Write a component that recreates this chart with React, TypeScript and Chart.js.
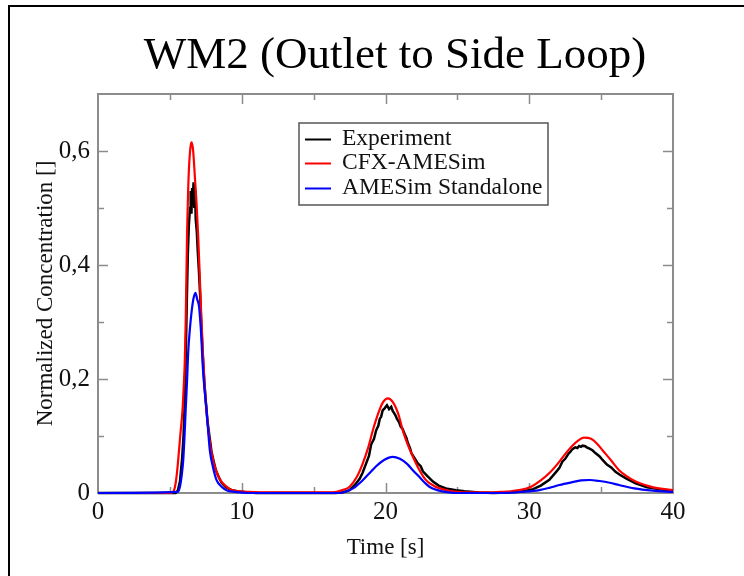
import React, { useEffect, useRef } from "react";
import { Chart, registerables } from "chart.js";

Chart.register(...registerables);

const titleText = "WM2 (Outlet to Side Loop)";
const xAxisTitle = "Time [s]";
const yAxisTitle = "Normalized Concentration []";
const xTicks = [0, 10, 20, 30, 40];
const xMinorTicks = [5, 15, 25, 35];
const yTicks = [0, 0.2, 0.4, 0.6];
const yMinorTicks = [0.1, 0.3, 0.5];
const yTickLabels = ["0", "0,2", "0,4", "0,6"];

const seriesNames = ["Experiment", "CFX-AMESim", "AMESim Standalone"];
const seriesColors = ["#000000", "#ff0000", "#0000ff"];

const expTime = [
  0, 5.4, 5.55, 5.7, 5.85, 5.95, 6.05, 6.12, 6.18, 6.25, 6.32, 6.4, 6.45, 6.5, 6.55, 6.6, 6.65, 6.7, 6.75, 6.8,
  6.87, 6.95, 7.02, 7.1, 7.18, 7.27, 7.38, 7.5, 7.62, 7.75, 7.9, 8.05, 8.2, 8.4, 8.6, 8.9, 9.3, 10, 11,
  16.5, 17.0, 17.5, 17.9, 18.2, 18.4, 18.7, 18.85, 19.0, 19.2, 19.35, 19.5, 19.6, 19.7, 19.8, 19.95, 20.1, 20.25, 20.4,
  20.5, 20.6, 20.7, 20.8, 20.95, 21.05, 21.2, 21.3, 21.45, 21.55, 21.7, 21.8, 22.0, 22.25, 22.45, 22.6, 22.9, 23.3,
  23.7, 24.2, 24.9, 25.5, 26.5, 27.5,
  28.5, 29.3, 30.2, 30.8, 31.4, 31.9, 32.1, 32.3, 32.5, 32.7, 32.85, 33.0, 33.2, 33.35, 33.47, 33.6, 33.7, 33.9, 34.0,
  34.1, 34.25, 34.4, 34.6, 34.9, 35.1, 35.4, 35.7, 36.0, 36.3, 36.7, 37.0, 37.4, 38.2, 39.2, 40,
];
const expValues = [
  0, 0, 0.004, 0.02, 0.06, 0.1, 0.17, 0.26, 0.34, 0.42, 0.47, 0.5, 0.53, 0.49, 0.535, 0.52, 0.545, 0.5, 0.53, 0.48,
  0.46, 0.42, 0.39, 0.35, 0.3, 0.25, 0.2, 0.16, 0.125, 0.1, 0.072, 0.055, 0.04, 0.028, 0.018, 0.01, 0.005, 0.002, 0,
  0, 0.001, 0.005, 0.015, 0.025, 0.035, 0.055, 0.065, 0.085, 0.095, 0.11, 0.118, 0.13, 0.134, 0.145, 0.149, 0.154, 0.147, 0.151,
  0.144, 0.14, 0.136, 0.13, 0.124, 0.117, 0.112, 0.105, 0.097, 0.088, 0.079, 0.07, 0.062, 0.052, 0.047, 0.038, 0.03, 0.02,
  0.013, 0.008, 0.005, 0.003, 0.001, 0,
  0.001, 0.002, 0.006, 0.013, 0.023, 0.038, 0.044, 0.055, 0.06, 0.068, 0.072, 0.077, 0.08, 0.079, 0.0825, 0.081, 0.083, 0.082, 0.08,
  0.079, 0.077, 0.075, 0.07, 0.064, 0.058, 0.05, 0.045, 0.037, 0.032, 0.026, 0.022, 0.017, 0.01, 0.006, 0.004,
];

const cfxTime = [
  0, 5.0, 5.25, 5.35, 5.47, 5.58, 5.72, 5.88, 5.97, 6.04, 6.1, 6.15, 6.2, 6.27, 6.35, 6.45, 6.52, 6.62, 6.75, 6.85,
  6.97, 7.08, 7.2, 7.3, 7.43, 7.6, 7.75, 7.9, 8.2, 8.5, 8.9, 9.3, 10.5, 12, 15,
  16, 16.6, 17.0, 17.5, 18.0, 18.42, 18.8, 19.12, 19.5, 19.8, 20.16, 20.5, 20.9, 21.2, 21.5, 21.9, 22.3, 22.8, 23.4,
  24.2, 25, 26, 27, 28, 28.7, 29.3, 29.8, 30.2, 30.8, 31.4, 32.0, 32.55, 33.0, 33.4, 33.8, 34.3, 34.7, 35.1, 35.7,
  36.25, 36.8, 37.4, 38.2, 39.0, 40,
];
const cfxValues = [
  0, 0, 0.003, 0.01, 0.03, 0.058, 0.1, 0.146, 0.19, 0.233, 0.3, 0.38, 0.46, 0.53, 0.58, 0.61, 0.615, 0.6, 0.55, 0.51,
  0.45, 0.38, 0.3, 0.245, 0.186, 0.13, 0.095, 0.07, 0.04, 0.023, 0.012, 0.005, 0.002, 0.001, 0.001,
  0.001, 0.002, 0.005, 0.011, 0.028, 0.052, 0.08, 0.11, 0.14, 0.158, 0.166, 0.16, 0.138, 0.11, 0.088, 0.064, 0.043, 0.023, 0.012,
  0.005, 0.002, 0.001, 0.001, 0.002, 0.003, 0.005, 0.008, 0.012, 0.022, 0.035, 0.052, 0.07, 0.083, 0.092, 0.097, 0.095, 0.087, 0.075, 0.057,
  0.04, 0.029, 0.02, 0.013, 0.008, 0.005,
];

const ameTime = [
  0, 5.55, 5.7, 5.82, 5.93, 6.02, 6.1, 6.2, 6.27, 6.4, 6.52, 6.65, 6.78, 6.9, 7.03, 7.12, 7.2, 7.27, 7.4, 7.55,
  7.66, 7.78, 8.0, 8.24, 8.6, 8.94, 9.5, 10.5,
  16.8, 17.3, 17.8, 18.4, 18.9, 19.35, 19.9, 20.5, 21.0, 21.5, 21.9, 22.36, 22.7, 23.05, 23.6, 24.4, 25,
  28, 29.5, 30.7, 31.4, 32.1, 33.0, 33.6, 34.2, 34.9, 35.6, 36.25, 37.3, 38.6, 40,
];
const ameValues = [
  0, 0.002, 0.011, 0.03, 0.058, 0.1, 0.146, 0.2, 0.245, 0.29, 0.32, 0.342, 0.351, 0.34, 0.327, 0.3, 0.268, 0.23, 0.185, 0.146,
  0.11, 0.075, 0.045, 0.023, 0.011, 0.005, 0.002, 0,
  0, 0.003, 0.009, 0.022, 0.035, 0.047, 0.058, 0.0635, 0.06, 0.051, 0.04, 0.028, 0.019, 0.011, 0.005, 0.001, 0,
  0, 0.002, 0.005, 0.009, 0.014, 0.019, 0.022, 0.0228, 0.021, 0.018, 0.014, 0.008, 0.004, 0.002,
];

const toPoints = (t: number[], v: number[]) => t.map((x, i) => ({ x, y: v[i] }));

const SERIF = "'Liberation Serif', 'Times New Roman', 'DejaVu Serif', serif";

const framePlugin = {
  id: "framePlugin",
  beforeDatasetsDraw(chart: any) {
    const { ctx, chartArea } = chart;
    const xs = chart.scales.x;
    const ys = chart.scales.y;
    const { left, right, top, bottom } = chartArea;
    ctx.save();
    ctx.strokeStyle = "#8c8c8c";
    ctx.lineWidth = 2;
    ctx.strokeRect(left, top, right - left, bottom - top);
    ctx.lineWidth = 1.5;
    const major = 10;
    const minor = 6;
    ctx.beginPath();
    const xt = (vals: number[], len: number) => {
      vals.forEach((v) => {
        const p = Math.round(xs.getPixelForValue(v)) + 0.5;
        ctx.moveTo(p, bottom);
        ctx.lineTo(p, bottom - len);
        ctx.moveTo(p, top);
        ctx.lineTo(p, top + len);
      });
    };
    const yt = (vals: number[], len: number) => {
      vals.forEach((v) => {
        const p = Math.round(ys.getPixelForValue(v)) + 0.5;
        ctx.moveTo(left, p);
        ctx.lineTo(left + len, p);
        ctx.moveTo(right, p);
        ctx.lineTo(right - len, p);
      });
    };
    xt(xTicks.slice(1, -1), major);
    xt(xMinorTicks, minor);
    yt(yTicks.slice(1), major);
    yt(yMinorTicks, minor);
    ctx.stroke();
    ctx.restore();
  },
  afterDraw(chart: any) {
    const { ctx } = chart;
    ctx.save();
    // outer page frame
    ctx.fillStyle = "#000";
    ctx.fillRect(8, 5, 744, 2);
    ctx.fillRect(8, 5, 2, 576);
    // title
    ctx.fillStyle = "#000";
    ctx.font = `45px ${SERIF}`;
    ctx.textAlign = "center";
    ctx.textBaseline = "middle";
    ctx.fillText(titleText, 395, 56);
    // legend box
    const bx = 299, by = 123, bw = 249, bh = 82;
    ctx.fillStyle = "#fff";
    ctx.fillRect(bx, by, bw, bh);
    ctx.strokeStyle = "#555";
    ctx.lineWidth = 1.5;
    ctx.strokeRect(bx, by, bw, bh);
    ctx.font = `23.5px ${SERIF}`;
    ctx.textBaseline = "middle";
    ctx.textAlign = "left";
    const rows = [139, 163, 188];
    chart.data.datasets.forEach((ds: any, i: number) => {
      const y = rows[i];
      ctx.strokeStyle = ds.borderColor;
      ctx.lineWidth = 2;
      ctx.beginPath();
      ctx.moveTo(305, y + 0.5);
      ctx.lineTo(331, y + 0.5);
      ctx.stroke();
      ctx.fillStyle = "#111";
      ctx.fillText(ds.label, 342, y);
    });
    ctx.restore();
  },
};

export default function App() {
  const canvasRef = useRef<HTMLCanvasElement | null>(null);

  useEffect(() => {
    if (!canvasRef.current) return;
    const chart = new Chart(canvasRef.current, {
      type: "line",
      data: {
        datasets: [
          {
            label: seriesNames[0],
            data: toPoints(expTime, expValues),
            borderColor: seriesColors[0],
            borderWidth: 2.5,
            pointRadius: 0,
            tension: 0,
            order: 3,
          },
          {
            label: seriesNames[1],
            data: toPoints(cfxTime, cfxValues),
            borderColor: seriesColors[1],
            borderWidth: 2.2,
            pointRadius: 0,
            cubicInterpolationMode: "monotone",
            order: 2,
          },
          {
            label: seriesNames[2],
            data: toPoints(ameTime, ameValues),
            borderColor: seriesColors[2],
            borderWidth: 2.2,
            pointRadius: 0,
            cubicInterpolationMode: "monotone",
            order: 1,
          },
        ],
      },
      plugins: [framePlugin],
      options: {
        responsive: false,
        animation: false,
        devicePixelRatio: 1,
        clip: false as any,
        layout: { padding: { left: 0, right: 71, top: 94, bottom: 0 } },
        plugins: {
          legend: { display: false },
          tooltip: { enabled: false },
          title: { display: false },
        },
        scales: {
          x: {
            type: "linear",
            min: 0,
            max: 40,
            afterBuildTicks: (s: any) => {
              s.ticks = xTicks.map((v) => ({ value: v }));
            },
            afterFit: (s: any) => {
              s.height = 83;
            },
            grid: { display: false, drawTicks: false },
            border: { display: false },
            ticks: {
              color: "#111",
              font: { family: SERIF, size: 25 },
              padding: 4,
              maxRotation: 0,
              autoSkip: false,
              callback: (v: any) => String(v),
            },
            title: {
              display: true,
              text: xAxisTitle,
              color: "#111",
              font: { family: SERIF, size: 23 },
              padding: { top: 0, bottom: 14 },
            },
          },
          y: {
            type: "linear",
            min: 0,
            max: 0.7,
            afterBuildTicks: (s: any) => {
              s.ticks = yTicks.map((v) => ({ value: v }));
            },
            afterFit: (s: any) => {
              s.width = 98;
            },
            grid: { display: false, drawTicks: false },
            border: { display: false },
            ticks: {
              color: "#111",
              font: { family: SERIF, size: 25 },
              padding: 8,
              autoSkip: false,
              callback: (v: any) => {
                const i = yTicks.findIndex((t) => Math.abs(t - v) < 1e-9);
                return i >= 0 ? yTickLabels[i] : "";
              },
            },
            title: {
              display: true,
              text: yAxisTitle,
              color: "#111",
              font: { family: SERIF, size: 23 },
              padding: { top: 32, bottom: 0 },
            },
          },
        },
      },
    } as any);
    return () => chart.destroy();
  }, []);

  return (
    <div style={{ position: "absolute", left: 0, top: 0, width: 744, height: 576, background: "#fff" }}>
      <canvas ref={canvasRef} width={744} height={576} style={{ display: "block" }} />
    </div>
  );
}
